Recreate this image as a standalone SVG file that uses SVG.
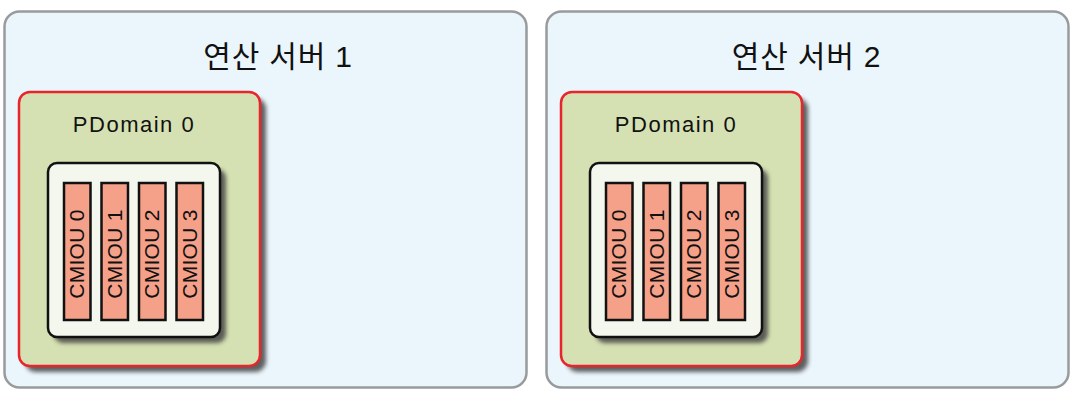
<svg xmlns="http://www.w3.org/2000/svg" width="1077" height="404" viewBox="0 0 1077 404">
<defs>
<style>
.server{fill:#eaf5fc;stroke:#999a9c;stroke-width:2.5}
.pdom{fill:#d5e1b2;stroke:#e8252a;stroke-width:2.5}
.box{fill:#f4f7ee;stroke:#111;stroke-width:2.5}
.bar{fill:#f5a088;stroke:#111;stroke-width:2.5}
.title{font-family:"Liberation Sans","Noto Sans CJK KR",sans-serif;font-size:30px;letter-spacing:0.8px;fill:#111;text-anchor:middle}
.pl{font-family:"Liberation Sans",sans-serif;font-size:22px;letter-spacing:1.5px;fill:#111;text-anchor:middle}
.cl{font-family:"Liberation Sans",sans-serif;font-size:21px;letter-spacing:0.3px;fill:#111;text-anchor:middle}
</style>
<filter id="sh" x="-10%" y="-10%" width="130%" height="130%">
<feGaussianBlur stdDeviation="2"/>
</filter>
<g id="unit">
<rect x="25" y="98" width="241" height="274" rx="11" fill="#444" opacity="0.85" filter="url(#sh)"/>
<rect class="pdom" x="19" y="92" width="241" height="274" rx="11"/>
<text class="pl" x="134" y="131.5">PDomain 0</text>
<rect x="54" y="169" width="172" height="174" rx="9" fill="#444" opacity="0.85" filter="url(#sh)"/>
<rect class="box" x="48" y="163" width="172" height="174" rx="9"/>
<rect class="bar" x="64" y="183" width="26.5" height="137"/>
<rect class="bar" x="101.5" y="183" width="26.5" height="137"/>
<rect class="bar" x="139" y="183" width="26.5" height="137"/>
<rect class="bar" x="176.5" y="183" width="26.5" height="137"/>
<text class="cl" transform="translate(84,254) rotate(-90)">CMIOU 0</text>
<text class="cl" transform="translate(121.5,254) rotate(-90)">CMIOU 1</text>
<text class="cl" transform="translate(159,254) rotate(-90)">CMIOU 2</text>
<text class="cl" transform="translate(196.5,254) rotate(-90)">CMIOU 3</text>
</g>
</defs>
<rect width="1077" height="404" fill="#ffffff"/>
<g id="server1">
<rect class="server" x="4.5" y="11.5" width="522" height="376" rx="15"/>
<text class="title" x="278" y="66.5">연산 서버 1</text>
<g id="pdomain1"><use href="#unit"/></g>
</g>
<g id="server2">
<rect class="server" x="546.5" y="11.5" width="522" height="376" rx="15"/>
<text class="title" x="806.5" y="66.5">연산 서버 2</text>
<g id="pdomain2"><use href="#unit" transform="translate(542,0)"/></g>
</g>
<g id="connectors"/>
</svg>
